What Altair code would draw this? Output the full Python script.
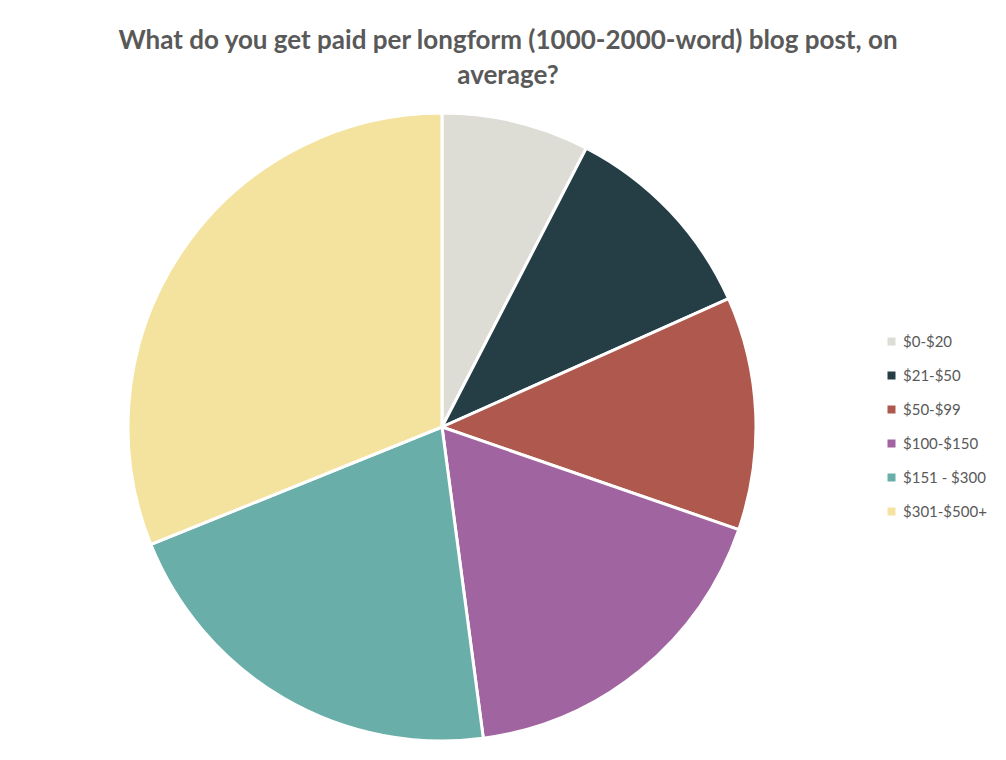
import altair as alt
import pandas as pd

categories = ["$0-$20", "$21-$50", "$50-$99", "$100-$150", "$151 - $300", "$301-$500+"]
values = [7.6, 10.7, 12.0, 17.6, 21.0, 31.1]
colors = ["#DDDDD5", "#253D45", "#AE584E", "#A064A0", "#69AEA9", "#F3E39E"]

df = pd.DataFrame({"range": categories, "value": values, "idx": list(range(len(categories)))})

chart = alt.Chart(df).mark_arc(outerRadius=314, stroke="white", strokeWidth=3).encode(
    theta=alt.Theta("value:Q", stack=True),
    order=alt.Order("idx:Q"),
    color=alt.Color(
        "range:N",
        sort=categories,
        scale=alt.Scale(domain=categories, range=colors),
        legend=alt.Legend(
            title=None,
            orient="none",
            legendX=876,
            legendY=236,
            symbolType="square",
            symbolSize=64,
            labelFontSize=15,
            labelColor="#595959",
            labelFont="Lato",
            rowPadding=18,
            symbolStrokeWidth=0,
        ),
    ),
    x=alt.value(434),
    y=alt.value(329),
    tooltip=["range", "value"],
).properties(
    width=988,
    height=654,
    padding={"top": 90, "left": 0, "right": 0, "bottom": 0},
    autosize=alt.AutoSizeParams(type="none"),
    title=alt.TitleParams(
        text=["What do you get paid per longform (1000-2000-word) blog post, on", "average?"],
        fontSize=26,
        font="Lato",
        fontWeight="bold",
        color="#595959",
        anchor="middle",
        dx=6,
        offset=9,
        lineHeight=35,
    ),
).configure_view(stroke=None)

chart.save("out.html", embed_options={"renderer": "svg", "actions": False})
